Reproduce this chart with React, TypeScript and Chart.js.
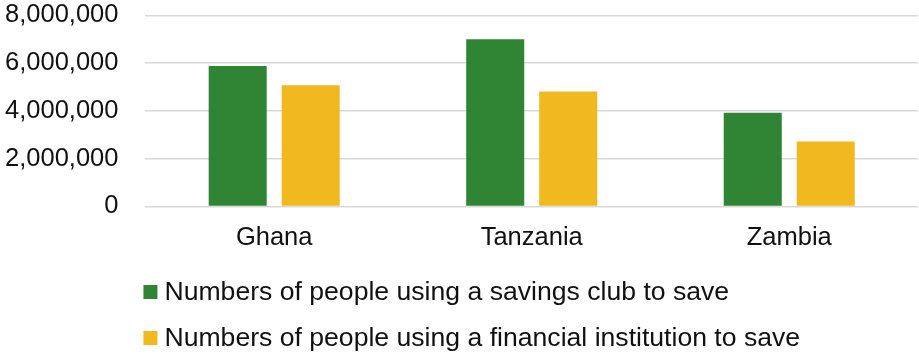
import React, { useEffect, useRef } from "react";
import { Chart, registerables } from "chart.js";

Chart.register(...registerables);

const categories = ["Ghana", "Tanzania", "Zambia"];
const seriesNames = [
  "Numbers of people using a savings club to save",
  "Numbers of people using a financial institution to save",
];
const savingsClub = [5875000, 7000000, 3920000];
const financialInstitution = [5070000, 4810000, 2720000];
const yTicks = [0, 2000000, 4000000, 6000000, 8000000];

const GREEN = "#2F8533";
const YELLOW = "#F1B91F";
const FONT = "'Liberation Sans', Arial, sans-serif";

const legendPlugin = {
  id: "stackedLegend",
  afterDraw(chart: any) {
    const { ctx } = chart;
    const xScale = chart.scales.x;
    const startX = chart.chartArea.left - 2;
    let y = xScale.bottom + 39;
    ctx.save();
    chart.data.datasets.forEach((ds: any) => {
      ctx.fillStyle = ds.backgroundColor;
      ctx.fillRect(startX, y - 7, 14, 14);
      ctx.fillStyle = "#111111";
      ctx.font = "26.6px " + FONT;
      ctx.textBaseline = "middle";
      ctx.textAlign = "left";
      ctx.fillText(ds.label, startX + 21, y + 1);
      y += 46;
    });
    ctx.restore();
  },
};

export default function App() {
  const ref = useRef<HTMLCanvasElement | null>(null);

  useEffect(() => {
    if (!ref.current) return;
    const chart = new Chart(ref.current, {
      type: "bar",
      data: {
        labels: categories,
        datasets: [
          {
            label: seriesNames[0],
            data: savingsClub,
            backgroundColor: GREEN,
            categoryPercentage: 0.567,
            barPercentage: 0.795,
          },
          {
            label: seriesNames[1],
            data: financialInstitution,
            backgroundColor: YELLOW,
            categoryPercentage: 0.567,
            barPercentage: 0.795,
          },
        ],
      },
      options: {
        responsive: false,
        animation: false,
        layout: { padding: { left: 5, right: 1, top: 0, bottom: 105 } },
        plugins: {
          legend: { display: false },
          tooltip: { enabled: false },
        },
        scales: {
          x: {
            grid: {
              display: true,
              drawOnChartArea: false,
              drawTicks: true,
              tickLength: 16,
              color: "rgba(0,0,0,0)",
              tickColor: "rgba(0,0,0,0)",
            },
            border: { display: false },
            ticks: {
              color: "#111111",
              padding: 0,
              font: { family: FONT, size: 25.5 },
            },
          },
          y: {
            min: 0,
            max: 8000000,
            afterBuildTicks(scale: any) {
              scale.ticks = yTicks.map((v) => ({ value: v }));
            },
            grid: {
              color: "#D9D9D9",
              lineWidth: 1.5,
              drawTicks: true,
              tickLength: 27,
              tickColor: "rgba(0,0,0,0)",
            },
            border: { display: false },
            ticks: {
              color: "#111111",
              padding: 0,
              font: { family: FONT, size: 25.5 },
              callback: (v: any) => Number(v).toLocaleString("en-US"),
            },
          },
        },
      },
      plugins: [legendPlugin],
    });
    return () => chart.destroy();
  }, []);

  return (
    <div style={{ position: "fixed", left: 0, top: 0, width: 919, height: 358, background: "#fff" }}>
      <canvas ref={ref} width={919} height={358} style={{ display: "block" }} />
    </div>
  );
}
